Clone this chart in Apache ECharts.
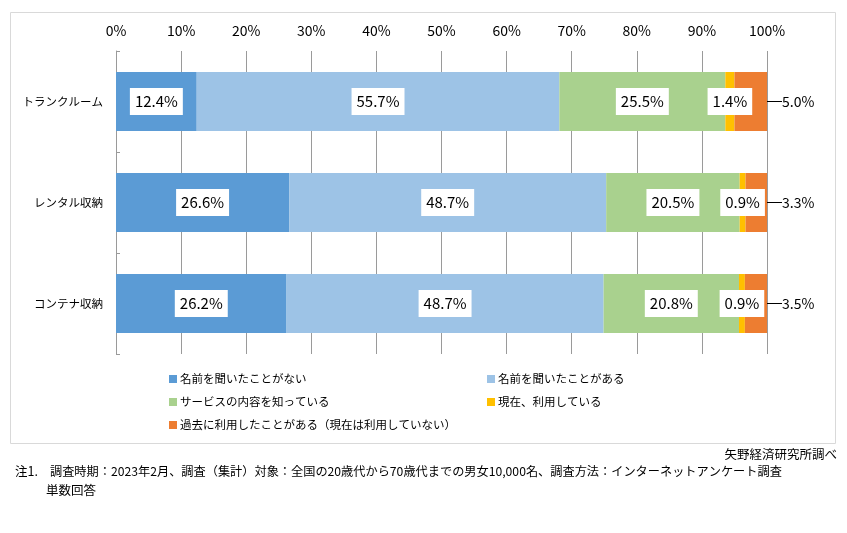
<!DOCTYPE html>
<html><head><meta charset="utf-8">
<script src="https://cdn.jsdelivr.net/npm/echarts@6/dist/echarts.min.js"></script>
<style>html,body{margin:0;padding:0;background:#fff}#c{width:847px;height:533px}</style>
</head><body><div id="c"></div>
<script>
const categories = ['トランクルーム', 'レンタル収納', 'コンテナ収納'];
const seriesNames = ['名前を聞いたことがない', '名前を聞いたことがある', 'サービスの内容を知っている', '現在、利用している', '過去に利用したことがある（現在は利用していない）'];
const neverHeard = [12.4, 26.6, 26.2];
const heardOf = [55.7, 48.7, 48.7];
const knowService = [25.5, 20.5, 20.8];
const usingNow = [1.4, 0.9, 0.9];
const usedBefore = [5.0, 3.3, 3.5];
const xTickLabels = ['0%', '10%', '20%', '30%', '40%', '50%', '60%', '70%', '80%', '90%', '100%'];
const colors = ['#5B9BD5', '#9DC3E6', '#A9D18E', '#FFC000', '#ED7D31'];
const sourceNote = '矢野経済研究所調べ';
const noteHead = '注1.';
const note1 = '調査時期：2023年2月、調査（集計）対象：全国の20歳代から70歳代までの男女10,000名、調査方法：インターネットアンケート調査';
const note2 = '単数回答';

const FONT = '"Noto Sans CJK JP", "Noto Sans", sans-serif';
const values = [neverHeard, heardOf, knowService, usingNow, usedBefore];

const insideLabel = {
  show: true, position: 'inside', color: '#000', fontSize: 15, fontFamily: FONT,
  backgroundColor: '#fff', padding: [6, 5, 5, 5], lineHeight: 16,
  formatter: p => p.value.toFixed(1) + '%'
};

const series = values.map((arr, i) => {
  const s = {
    name: seriesNames[i], type: 'bar', stack: 'total', data: arr,
    barWidth: 59, itemStyle: { color: colors[i] },
    label: insideLabel, emphasis: { disabled: true }
  };
  if (i === 4) {
    s.label = {
      show: true, position: 'right', distance: 1, color: '#000', fontSize: 14, fontFamily: FONT,
      formatter: p => p.value.toFixed(1) + '%'
    };
    s.labelLayout = { dx: 14 };
    s.labelLine = { show: true, length2: 0, lineStyle: { color: '#000', width: 1 } };
  }
  return s;
});

const chart = echarts.init(document.getElementById('c'), null, { renderer: 'canvas' });
chart.setOption({
  animation: false,
  textStyle: { fontFamily: FONT },
  grid: { left: 116, right: 80, top: 51, bottom: 179, containLabel: false },
  xAxis: {
    type: 'value', position: 'top', min: 0, max: 100, interval: 10,
    axisLine: { show: false }, axisTick: { show: false },
    axisLabel: { color: '#000', fontSize: 14, margin: 13, fontFamily: FONT,
      formatter: v => xTickLabels[Math.round(v / 10)] },
    splitLine: { show: true, lineStyle: { color: '#9a9a9a', width: 1 } }
  },
  yAxis: {
    type: 'category', data: categories, inverse: true,
    axisLine: { show: true, lineStyle: { color: '#9a9a9a' } },
    axisTick: { show: true, inside: true, length: 4, lineStyle: { color: '#9a9a9a' } },
    axisLabel: { color: '#000', fontSize: 11.5, margin: 13, fontFamily: FONT }
  },
  legend: [
    { left: 164, top: 367, orient: 'vertical', itemWidth: 8, itemHeight: 8, itemGap: 9,
      icon: 'rect', data: [seriesNames[0], seriesNames[2], seriesNames[4]],
      textStyle: { color: '#000', fontSize: 11.5, lineHeight: 14, fontFamily: FONT, padding: [0, 0, 0, -2] } },
    { left: 482, top: 367, orient: 'vertical', itemWidth: 8, itemHeight: 8, itemGap: 9,
      icon: 'rect', data: [seriesNames[1], seriesNames[3]],
      textStyle: { color: '#000', fontSize: 11.5, lineHeight: 14, fontFamily: FONT, padding: [0, 0, 0, -2] } }
  ],
  graphic: [
    { type: 'rect', left: 8, top: 10, silent: true, z: -1,
      shape: { width: 825, height: 431 }, style: { fill: 'none', stroke: '#D9D9D9', lineWidth: 1 } },
    { type: 'text', right: 10, top: 448, style: { text: sourceNote, fill: '#000', fontSize: 12.5, fontFamily: FONT } },
    { type: 'text', left: 15, top: 465, style: { text: noteHead, fill: '#000', fontSize: 12.5, fontFamily: FONT } },
    { type: 'text', left: 50, top: 465, style: { text: note1, fill: '#000', fontSize: 12.2, fontFamily: FONT } },
    { type: 'text', left: 46, top: 484, style: { text: note2, fill: '#000', fontSize: 12.5, fontFamily: FONT } }
  ],
  series: series
});
</script></body></html>
